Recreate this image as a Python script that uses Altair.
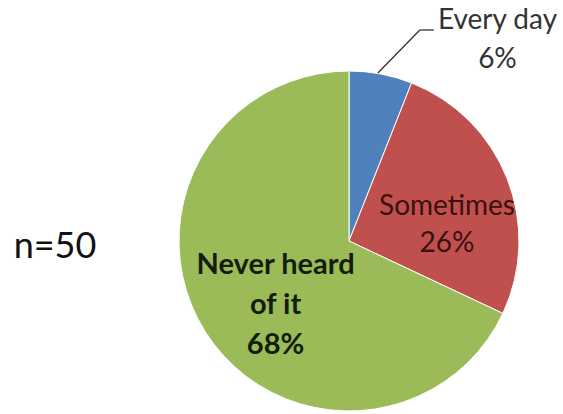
import altair as alt
import pandas as pd

categories = ["Every day", "Sometimes", "Never heard of it"]
values = [6, 26, 68]
label_lines = ["Every day", "Sometimes", "Never heard\nof it"]
slice_colors = ["#4F81BD", "#C0504D", "#9BBB59"]
sample_note = "n=50"

df = pd.DataFrame({
    "category": categories,
    "value": values,
    "order": list(range(len(categories))),
    "name": label_lines,
})

CX, CY, R = 349, 241, 170

base = alt.Chart(df)

pie = base.mark_arc(outerRadius=R, stroke="#ffffff", strokeWidth=1).encode(
    theta=alt.Theta("value:Q", stack=True),
    order=alt.Order("order:Q"),
    color=alt.Color("category:N", scale=alt.Scale(domain=categories, range=slice_colors), legend=None),
    x=alt.value(CX),
    y=alt.value(CY),
)

lab = base.transform_window(
    cum="sum(value)", sort=[alt.SortField("order")], frame=[None, 0]
).transform_joinaggregate(total="sum(value)").transform_calculate(
    mid="(datum.cum - datum.value/2) / datum.total * 2 * PI",
    label="datum.name + '\\n' + format(datum.value/datum.total, '.0%')",
)

def text_layer(cat, radius, dx, dy, color, weight="normal", size=28, lh=39):
    return lab.transform_filter(alt.datum.category == cat).mark_text(
        radius=radius, dx=dx, dy=dy, font="Lato", fontSize=size, fontWeight=weight,
        lineBreak="\n", lineHeight=lh, align="center", baseline="middle", color=color,
    ).encode(
        theta=alt.Theta("mid:Q", scale=None),
        text="label:N",
        x=alt.value(CX),
        y=alt.value(CY),
    )

t_every = text_layer("Every day", 200, 111, -24, "#333333")
t_some = text_layer("Sometimes", 100, 5, 3, "#3a1010", lh=37)
t_never = text_layer("Never heard of it", 100, 11, -30, "#141c0a", "bold", size=29, lh=40)

leader_src = lab.transform_filter(alt.datum.category == "Every day").transform_calculate(
    x1=f"{CX} + {R} * sin(datum.mid) - 3",
    y1=f"{CY} - {R} * cos(datum.mid) - 1",
).transform_calculate(
    x2="datum.x1 + 42", y2="datum.y1 - 43",
).transform_calculate(
    x3="datum.x2 + 14",
)

leader1 = leader_src.mark_rule(color="#333333", strokeWidth=1.3).encode(
    x=alt.X("x1:Q", scale=None), y=alt.Y("y1:Q", scale=None),
    x2="x2:Q", y2="y2:Q",
)
leader2 = leader_src.mark_rule(color="#333333", strokeWidth=1.3).encode(
    x=alt.X("x2:Q", scale=None), y=alt.Y("y2:Q", scale=None),
    x2="x3:Q", y2="y2:Q",
)

note = alt.Chart(pd.DataFrame({"t": [sample_note]})).mark_text(
    font="Lato", fontSize=36, align="center", baseline="middle", color="#111111"
).encode(text="t:N", x=alt.value(55), y=alt.value(247))

chart = alt.layer(pie, leader1, leader2, t_every, t_some, t_never, note).resolve_scale(
    color="independent"
).properties(
    width=563, height=414, padding=0, autosize=alt.AutoSizeParams(type="none")
).configure_view(stroke=None)

chart.save("out.html", embed_options={"renderer": "svg", "actions": False})
